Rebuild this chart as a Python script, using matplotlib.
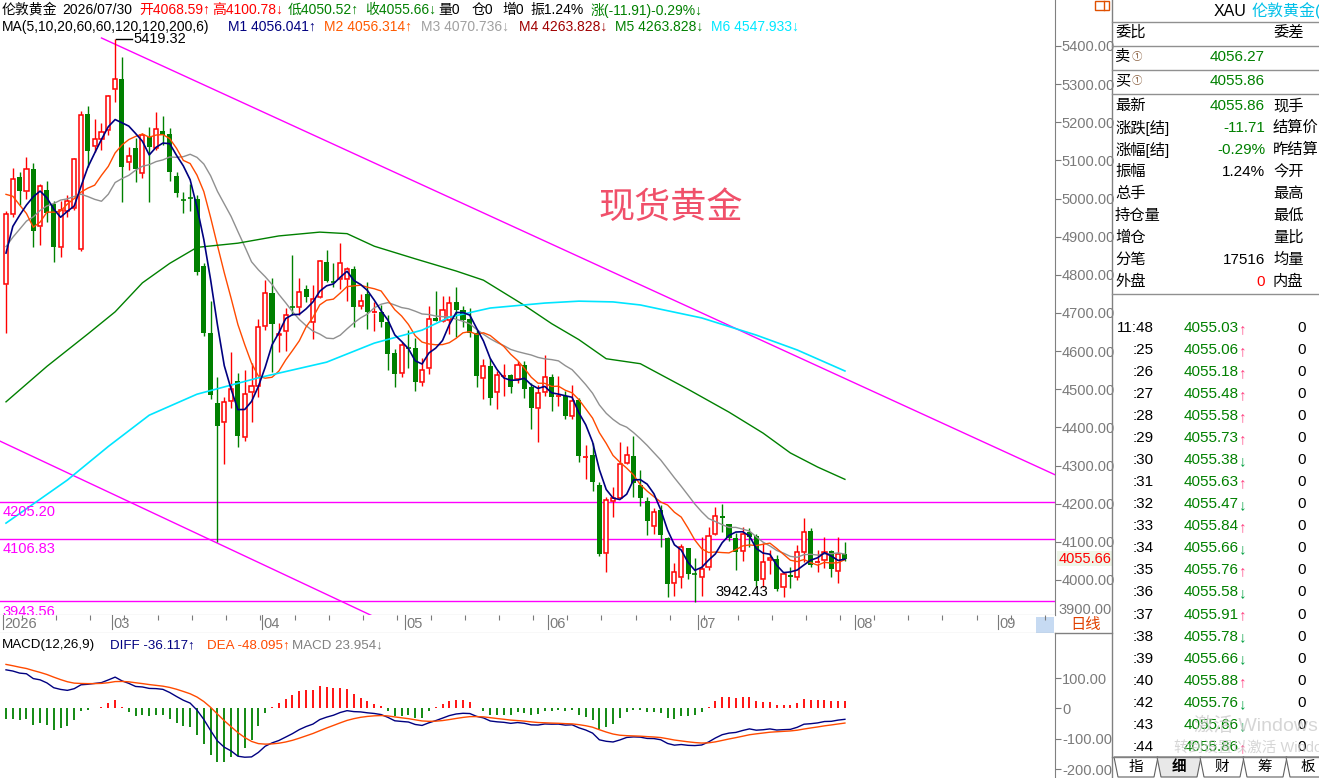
import numpy as np
import matplotlib
matplotlib.use('Agg')
import matplotlib.pyplot as plt
from matplotlib.patches import Rectangle, Polygon

# ---------------- data ----------------
opens = [4776, 4960, 5056, 5021, 5077, 4929, 5022, 4986, 4874, 4968,
         4975, 4867, 5222, 5138, 5156, 5180, 5287, 5313, 5095, 5132,
         5066, 5162, 5132, 5178, 5169, 5060, 4997, 5001, 4999, 4823,
         4648, 4463, 4413, 4469, 4522, 4376, 4494, 4509, 4667, 4752,
         4642, 4654, 4716, 4715, 4763, 4677, 4741, 4833, 4783, 4789,
         4789, 4815, 4718, 4750, 4701, 4702, 4677, 4594, 4542, 4610,
         4607, 4520, 4556, 4686, 4680, 4682, 4728, 4708, 4683, 4647,
         4529, 4561, 4494, 4534, 4537, 4527, 4564, 4507, 4452, 4494,
         4531, 4482, 4483, 4431, 4472, 4322, 4328, 4249, 4070, 4207,
         4216, 4306, 4325, 4249, 4208, 4142, 4183, 4109, 3993, 4008,
         4085, 4016, 4008, 4033, 4120, 4168, 4146, 4109, 4077, 4126,
         4115, 4002, 4052, 4054, 3981, 4013, 4008, 4073, 4128, 4045,
         4052, 4076, 4024, 4068.59]
highs = [4967, 5081, 5070, 5110, 5094, 5038, 5047, 4994, 4994, 5009,
         5106, 5230, 5243, 5209, 5197, 5271, 5419.32, 5370, 5134, 5160,
         5171, 5188, 5228, 5216, 5184, 5070, 5018, 5038, 5009, 4832,
         4731, 4533, 4479, 4597, 4542, 4550, 4568, 4683, 4786, 4793,
         4674, 4712, 4852, 4793, 4773, 4773, 4839, 4865, 4830, 4883,
         4820, 4824, 4750, 4782, 4729, 4721, 4695, 4605, 4625, 4655,
         4634, 4581, 4718, 4758, 4744, 4744, 4767, 4718, 4712, 4655,
         4580, 4581, 4549, 4565, 4540, 4574, 4574, 4516, 4511, 4589,
         4539, 4535, 4495, 4511, 4478, 4354, 4358, 4256, 4217, 4243,
         4362, 4351, 4377, 4288, 4218, 4189, 4196, 4113, 4045, 4094,
         4085, 4057, 4112, 4140, 4190, 4198, 4147, 4124, 4138, 4136,
         4120, 4096, 4078, 4065, 4022, 4035, 4092, 4163, 4137, 4078,
         4112, 4078, 4112, 4100.78]
lows = [4647, 4952, 4983, 5000, 4872, 4878, 4939, 4834, 4847, 4952,
        4970, 4863, 5083, 5123, 5127, 5167, 5252, 4992, 5075, 5044,
        5055, 4992, 5127, 5140, 5047, 5003, 4961, 4968, 4800, 4640,
        4474, 4100, 4303, 4452, 4348, 4365, 4415, 4479, 4655, 4546,
        4597, 4601, 4695, 4695, 4729, 4632, 4738, 4781, 4767, 4763,
        4732, 4662, 4710, 4658, 4653, 4662, 4550, 4507, 4533, 4556,
        4496, 4508, 4540, 4680, 4677, 4644, 4638, 4664, 4638, 4505,
        4474, 4459, 4448, 4482, 4489, 4516, 4478, 4396, 4362, 4483,
        4444, 4457, 4422, 4422, 4308, 4265, 4234, 4063, 4021, 4166,
        4214, 4303, 4217, 4194, 4118, 4120, 4087, 3956, 3958, 3980,
        4002, 3942.43, 3959, 4026, 4118, 4126, 4103, 4026, 4050, 4087,
        3985, 3982, 4016, 3972, 3956, 3978, 4000, 4048, 4035, 4020,
        4032, 4008, 3993, 4050.52]
closes = [4960, 5050, 5021, 5077, 4916, 5034, 4961, 4874, 4970, 4994,
          5103, 5219, 5125, 5155, 5174, 5269, 5313, 5082, 5112, 5077,
          5167, 5134, 5182, 5167, 5070, 5014, 4995, 5000, 4808, 4647,
          4485, 4404, 4466, 4500, 4378, 4487, 4509, 4662, 4752, 4671,
          4646, 4695, 4714, 4756, 4743, 4736, 4836, 4785, 4781, 4830,
          4815, 4715, 4732, 4702, 4703, 4677, 4592, 4539, 4616, 4608,
          4518, 4550, 4683, 4680, 4708, 4727, 4708, 4682, 4647, 4535,
          4561, 4478, 4537, 4537, 4505, 4564, 4501, 4452, 4489, 4531,
          4480, 4484, 4431, 4469, 4326, 4324, 4258, 4068, 4210, 4214,
          4304, 4328, 4255, 4214, 4155, 4177, 4118, 3989, 4022, 4086,
          4015, 4014, 4028, 4116, 4168, 4162, 4109, 4073, 4120, 4113,
          3998, 4048, 4058, 3976, 4016, 4007, 4073, 4125, 4039, 4047,
          4073, 4029, 4067.57, 4055.66]
# closes before the first visible bar (seed the moving averages)
warmup_closes = [4560, 4600, 4650, 4694, 4700, 4720, 4750, 4789, 4930, 4977,
                 5100, 5250, 5300, 5275, 4900, 4700, 4875, 4943, 4807]

ma60_idx = [0, 6, 12, 16, 20, 24, 28, 34, 40, 46, 50, 54, 60, 66, 70, 76,
            80, 84, 88, 93, 100, 106, 111, 115, 119, 123]
ma60_val = [4467, 4560, 4645, 4703, 4779, 4830, 4872, 4883, 4902, 4912, 4908,
            4875, 4842, 4810, 4786, 4720, 4672, 4630, 4580, 4567, 4500, 4440,
            4385, 4333, 4296, 4263.8]
ma120_idx = [0, 9, 15, 21, 28, 37, 47, 54, 61, 65, 71, 79, 84, 89, 93, 102,
             110, 116, 123]
ma120_val = [4149, 4262, 4350, 4432, 4487, 4530, 4571, 4621, 4655, 4689, 4713,
             4726, 4731, 4729, 4721, 4687, 4642, 4603, 4547.9]

month_labels = ['2026', '03', '04', '05', '06', '07', '08', '09']
month_idx = [0, 16, 38, 59, 80, 102, 125, 146]

level_lines = [4205.20, 4106.83, 3943.56]
upper_trend_idx = [14, 155]
upper_trend_val = [5421, 4266]
lower_trend_idx = [-1, 60]
lower_trend_val = [4365, 3853]

macd_seed = (4985.0, 4845.0, 150.0)   # ema12, ema26, dea before first bar

price_ticks = [4000, 4100, 4200, 4300, 4400, 4500, 4600, 4700, 4800, 4900,
               5000, 5100, 5200, 5300, 5400]
macd_ticks = [100, 0, -100, -200]
macd_tick_labels = ['100.00', '0', '-100.00', '-200.00']

header1 = [("伦敦黄金", 2, 'black'), ("2026/07/30", 62, 'black'),
           ("开4068.59↑", 139, '#ff0000'), ("高4100.78↓", 212, '#ff0000'),
           ("低4050.52↑", 288, '#008000'), ("收4055.66↓", 365, '#008000'),
           ("量0", 438, 'black'), ("仓0", 472, 'black'), ("增0", 502, 'black'),
           ("振1.24%", 530, 'black'), ("涨(-11.91)-0.29%↓", 591, '#008000')]
header2 = [("MA(5,10,20,60,60,120,120,200,6)", 2, 'black'),
           ("M1 4056.041↑", 228, '#000080'), ("M2 4056.314↑", 324, '#ff5a00'),
           ("M3 4070.736↓", 421, '#a0a0a0'), ("M4 4263.828↓", 519, '#a00000'),
           ("M5 4263.828↓", 615, '#008000'), ("M6 4547.933↓", 711, '#00e8ff')]
macd_header = [("MACD(12,26,9)", 2, 'black'), ("DIFF -36.117↑", 110, '#000080'),
               ("DEA -48.095↑", 207, '#ff4a00'), ("MACD 23.954↓", 292, '#808080')]

panel_rows = [("最新", "4055.86", '#008000', "现手"),
              ("涨跌[结]", "-11.71", '#008000', "结算价"),
              ("涨幅[结]", "-0.29%", '#008000', "昨结算"),
              ("振幅", "1.24%", 'black', "今开"),
              ("总手", "", 'black', "最高"),
              ("持仓量", "", 'black', "最低"),
              ("增仓", "", 'black', "量比"),
              ("分笔", "17516", 'black', "均量"),
              ("外盘", "0", '#ff0000', "内盘")]

tick_times = ['11:48', ':25', ':26', ':27', ':28', ':29', ':30', ':31', ':32', ':33',
              ':34', ':35', ':36', ':37', ':38', ':39', ':40', ':42', ':43', ':44']
tick_prices = [4055.03, 4055.06, 4055.18, 4055.48, 4055.58, 4055.73, 4055.38,
               4055.63, 4055.47, 4055.84, 4055.66, 4055.76, 4055.58, 4055.91,
               4055.78, 4055.66, 4055.88, 4055.76, 4055.66, 4055.86]
tick_dirs = ['↑', '↑', '↑', '↑', '↑', '↑', '↓', '↑', '↓', '↑',
             '↓', '↑', '↓', '↑', '↓', '↓', '↑', '↓', '↓', '↑']
tick_vols = [0] * 20

tabs = ['指', '细', '财', '筹', '板']

# ---------------- figure ----------------
FONT = ['Liberation Sans', 'Noto Sans CJK SC', 'DejaVu Sans']
plt.rcParams['font.family'] = FONT
W, H = 1319, 778
fig = plt.figure(figsize=(W / 100, H / 100), dpi=100)
fig.patch.set_facecolor('white')

def rect(px0, py0, px1, py1):
    return [px0 / W, 1 - py1 / H, (px1 - px0) / W, (py1 - py0) / H]

XMIN, XMAX = -0.88, 153.8
GRAY = '#7a7a7a'
RED = '#ff0000'
GREEN = '#008000'

o = np.array(opens, float); h = np.array(highs, float)
l = np.array(lows, float); c = np.array(closes, float)
n = len(c)
x = np.arange(n)

# ---- main price axes ----
ax = fig.add_axes(rect(0, 0, 1055, 615))
ax.set_xlim(XMIN, XMAX)
ax.set_ylim(3908.1, 5520.6)
for s in ['top', 'left']:
    ax.spines[s].set_visible(False)
ax.spines['right'].set_color('#808080')
ax.spines['bottom'].set_color('#808080')
ax.set_xticks([])
ax.yaxis.tick_right()
ax.set_yticks(price_ticks)
ax.set_yticklabels(['%.2f' % t for t in price_ticks])
ax.tick_params(axis='y', colors=GRAY, labelsize=10.5, length=4, width=0.8,
               pad=1, labelcolor=GRAY)

up = c >= o
dn = ~up
doji = np.abs(c - o) < 4
# red (hollow) candles
ax.vlines(x[up], np.maximum(o, c)[up], h[up], color=RED, lw=1, zorder=3)
ax.vlines(x[up], l[up], np.minimum(o, c)[up], color=RED, lw=1, zorder=3)
ax.bar(x[up & ~doji], (c - o)[up & ~doji], bottom=o[up & ~doji], width=0.6,
       facecolor='white', edgecolor=RED, linewidth=1.1, zorder=4)
# green (filled) candles
ax.vlines(x[dn], l[dn], h[dn], color=GREEN, lw=1, zorder=3)
ax.bar(x[dn & ~doji], (o - c)[dn & ~doji], bottom=c[dn & ~doji], width=0.74,
       color=GREEN, linewidth=0, zorder=4)
# doji crosses
for m, col in [(up & doji, RED), (dn & doji, GREEN)]:
    ax.hlines(((o + c) / 2)[m], x[m] - 0.37, x[m] + 0.37, color=col, lw=1.2, zorder=4)

# moving averages
allc = np.array(warmup_closes + closes, float)
def sma(k):
    return np.convolve(allc, np.ones(k) / k, mode='valid')[-n:]
ax.plot(x, sma(20), color='#909090', lw=1, zorder=5)
ax.plot(x, sma(10), color='#ff4a00', lw=1, zorder=5)
ax.plot(x, sma(5), color='#000080', lw=1.2, zorder=6)
ax.plot(ma60_idx, ma60_val, color='#008000', lw=1, zorder=5)
ax.plot(ma120_idx, ma120_val, color='#00e5ff', lw=1.2, zorder=5)

# trend lines and levels
ax.plot(upper_trend_idx, upper_trend_val, color='#ff00ff', lw=1, zorder=2)
ax.plot(lower_trend_idx, lower_trend_val, color='#ff00ff', lw=1, zorder=2)
for lv in level_lines:
    ax.axhline(lv, color='#ff00ff', lw=1, zorder=2)
    ax.text(XMIN + 0.4, lv - 8, '%.2f' % lv, color='#ff00ff', fontsize=10.5,
            va='top', ha='left', zorder=6)

# high / low annotations
ih = int(np.argmax(h)); il = int(np.argmin(l))
ax.plot([ih + 0.2, ih + 2.5], [h[ih], h[ih]], color='black', lw=1, zorder=6)
ax.text(ih + 2.7, h[ih], '%.2f' % h[ih], fontsize=10.5, va='center', ha='left', zorder=6)
ax.text(il + 3.0, l[il] + 26, '%.2f' % l[il], fontsize=10.5, va='center', ha='left', zorder=6)

# last price label on axis
ax.text(1.003, c[-1], '%.2f' % c[-1], transform=ax.get_yaxis_transform(),
        color=RED, fontsize=10.5, va='center', ha='left', zorder=7,
        bbox=dict(facecolor='#eef6e8', edgecolor='none', pad=0.5))
ax.text(1.003, 3922, '3900.00', transform=ax.get_yaxis_transform(),
        color=GRAY, fontsize=10.5, va='center', ha='left')

ax.text(97.5, 4975, '现货黄金', color='#f0506a', fontsize=26, ha='center',
        va='center', family=['Noto Sans CJK SC'], zorder=6)

# ---- date strip ----
ds = fig.add_axes(rect(0, 615, 1055, 633))
ds.set_xlim(XMIN, XMAX); ds.set_ylim(1, 0)
ds.set_xticks([]); ds.set_yticks([])
for s in ['top', 'left', 'right']:
    ds.spines[s].set_visible(False)
ds.spines['bottom'].set_color('#808080')
for mi, lab in zip(month_idx, month_labels):
    ds.plot([mi - 0.5, mi - 0.5], [0, 0.75], color=GRAY, lw=0.8)
    ds.text(mi - 0.3, 0.5, lab, color=GRAY, fontsize=10.5, va='center', ha='left')
wk = [k for k in range(0, 154, 5)]
ds.vlines([k + 2.3 for k in wk], 0, 0.3, color=GRAY, lw=0.8)
ds.add_patch(Rectangle((151.0, 0.1), 2.6, 0.9, facecolor='#c6daf2', edgecolor='none'))

# ---- MACD ----
e12, e26, dea = macd_seed
diff_v, dea_v = [], []
for cc in closes:
    e12 += (cc - e12) * 2 / 13
    e26 += (cc - e26) * 2 / 27
    d = e12 - e26
    dea += (d - dea) * 2 / 10
    diff_v.append(d); dea_v.append(dea)
diff_v = np.array(diff_v); dea_v = np.array(dea_v)
hist = 2 * (diff_v - dea_v)

mx = fig.add_axes(rect(0, 633, 1055, 778))
mx.set_xlim(XMIN, XMAX)
mx.set_ylim(-229.4, 249.2)
for s in ['top', 'left', 'bottom']:
    mx.spines[s].set_visible(False)
mx.spines['right'].set_color('#808080')
mx.set_xticks([])
mx.yaxis.tick_right()
mx.set_yticks(macd_ticks)
mx.set_yticklabels(macd_tick_labels)
mx.tick_params(axis='y', colors=GRAY, labelsize=10.5, length=4, width=0.8, pad=1,
               labelcolor=GRAY)
mx.vlines(x[hist >= 0], 0, hist[hist >= 0], color=RED, lw=1.3)
mx.vlines(x[hist < 0], 0, hist[hist < 0], color=GREEN, lw=1.3)
mx.plot(x, diff_v, color='#000080', lw=1)
mx.plot(x, dea_v, color='#ff4a00', lw=1)

# ---------------- overlay (pixel coordinates) ----------------
ov = fig.add_axes([0, 0, 1, 1], zorder=10)
ov.set_xlim(0, W); ov.set_ylim(H, 0)
ov.axis('off'); ov.patch.set_alpha(0)

def T(px, py, s, color='black', size=9.5, ha='left', weight='normal', **kw):
    ov.text(px, py, s, color=color, fontsize=size, ha=ha, va='center',
            fontweight=weight, **kw)

for s, px, col in header1:
    T(px, 10, s, col, size=10)
for s, px, col in header2:
    T(px, 27, s, col, size=10)
for s, px, col in macd_header:
    T(px, 645, s, col, size=9.6)

T(1070, 625, '日线', '#e04000', size=11)
ov.add_patch(Rectangle((1095, 1), 14, 9, fill=False, edgecolor='#e05000', lw=1))
ov.plot([1104, 1104], [1, 10], color='#e05000', lw=1)

# right panel frame
ov.plot([1112, 1112], [0, H], color='#808080', lw=1)
ov.plot([1055, 1112], [633, 633], color='#808080', lw=1)
for yy in [22, 46, 70, 94, 294]:
    ov.plot([1112, W], [yy, yy], color='#909090', lw=1)

T(1214, 11, 'XAU', 'black', size=11.5)
T(1251, 11, '伦敦黄金(', '#00c0e8', size=11.5)
T(1115, 33, '委比', size=11)
T(1273, 33, '委差', size=11)
T(1115, 57, '卖', size=11)
T(1132, 57, '①', '#8a6040', size=7.5)
T(1265, 57, '4056.27', GREEN, size=11, ha='right')
T(1115, 81, '买', size=11)
T(1132, 81, '①', '#8a6040', size=7.5)
T(1265, 81, '4055.86', GREEN, size=11, ha='right')
for k, (lab, val, col, rlab) in enumerate(panel_rows):
    yy = 106 + 22 * k
    T(1115, yy, lab, size=11)
    if val:
        T(1265, yy, val, col, size=11, ha='right')
    T(1273, yy, rlab, size=11)

for k in range(len(tick_times)):
    yy = 328 + 22.04 * k
    T(1154, yy, tick_times[k], size=11, ha='right')
    T(1184, yy, '%.2f' % tick_prices[k], GREEN, size=11)
    acol = '#ff4080' if tick_dirs[k] == '↑' else '#00a040'
    T(1239, yy + 1, tick_dirs[k], acol, size=11)
    T(1302, yy, str(tick_vols[k]), size=11, ha='center')

# watermark (faint system text over the list)
T(1194, 726, '激活 Windows', '#c8c8c8', size=14, alpha=0.75)
T(1174, 748, '转到设置以激活 Windows。', '#c8c8c8', size=10.5, alpha=0.75)

# tabs
ov.plot([1112, W], [757, 757], color='#808080', lw=1)
tab_x = [1114, 1157, 1200, 1243, 1286]
for k, lab in enumerate(tabs):
    x0 = tab_x[k]
    fc = '#e8e8e8' if k == 1 else 'white'
    ov.add_patch(Polygon([[x0, 757], [x0 + 4, 777], [x0 + 40, 777], [x0 + 44, 757]],
                         closed=True, facecolor=fc, edgecolor='#606060', lw=0.8))
    T(x0 + 22, 767, lab, size=10.5, ha='center', weight='bold' if k == 1 else 'normal')

fig.savefig('out.png', dpi=100, facecolor='white')
